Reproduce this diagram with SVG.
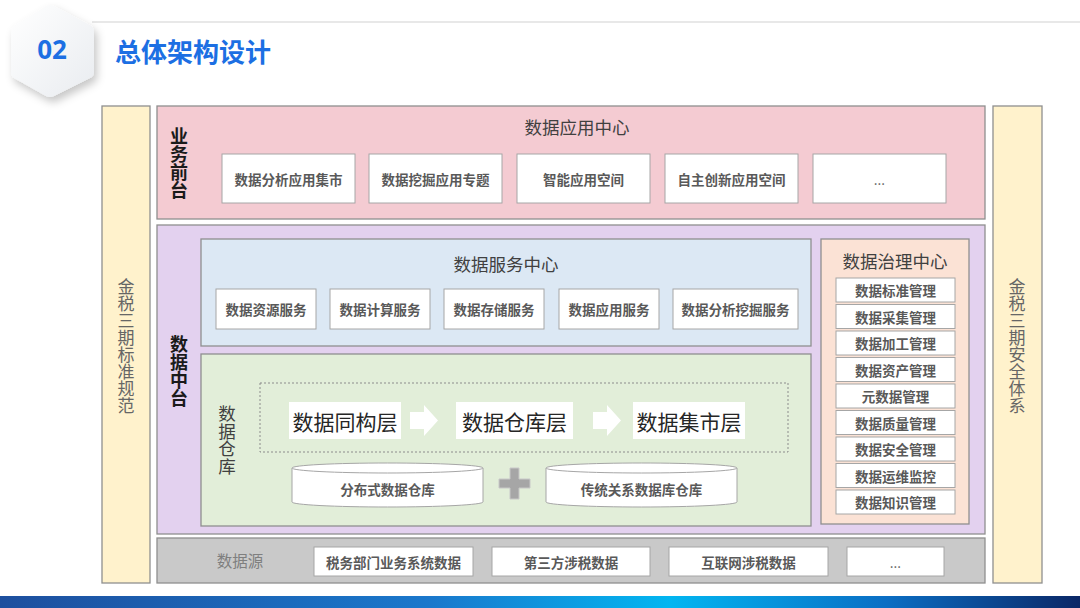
<svg xmlns="http://www.w3.org/2000/svg" width="1080" height="608" viewBox="0 0 1080 608">
<defs>
<linearGradient id="barGrad" x1="0" y1="0" x2="1" y2="0">
<stop offset="0" stop-color="#1d4f9e"/>
<stop offset="0.4" stop-color="#1a78cc"/>
<stop offset="0.62" stop-color="#02b6f1"/>
<stop offset="0.82" stop-color="#0a6ec4"/>
<stop offset="1" stop-color="#0a2766"/>
</linearGradient>
<linearGradient id="hexGrad" x1="0" y1="0" x2="1" y2="1">
<stop offset="0" stop-color="#ffffff"/>
<stop offset="1" stop-color="#e9ecf0"/>
</linearGradient>
<filter id="sh" x="-30%" y="-30%" width="160%" height="160%">
<feDropShadow dx="3" dy="5" stdDeviation="4" flood-color="#000" flood-opacity="0.22"/>
</filter>
</defs>
<style>
text{font-family:"Noto Sans CJK SC","Noto Sans",sans-serif;}
.frame{stroke:#8f8f8f;stroke-width:1.3;}
.box{fill:#fff;stroke:#a6a6a6;stroke-width:1;}
.bt{font-size:13.5px;font-weight:bold;fill:#595959;text-anchor:middle;dominant-baseline:central;}
.dots{font-size:13.5px;fill:#595959;text-anchor:middle;dominant-baseline:central;}
.title{font-size:17.5px;fill:#404040;text-anchor:middle;dominant-baseline:central;}
.vert{writing-mode:vertical-rl;text-anchor:middle;}
.side{font-size:17px;fill:#666;}
.vb{font-size:18px;font-weight:bold;fill:#1a1a1a;}
.layer{font-size:21px;fill:#262626;text-anchor:middle;dominant-baseline:central;}
</style>
<rect width="1080" height="608" fill="#ffffff"/>
<line x1="92" y1="22" x2="1080" y2="22" stroke="#e0e0e0" stroke-width="1.5"/>
<g id="header">
<path d="M54 6 L90 25 Q94 27 94 32 L94 72 Q94 76 90 78 L54 96 Q50 98 46 96 L14 78 Q11 76 11 72 L11 32 Q11 28 14 26 L46 6 Q50 4 54 6 Z" fill="url(#hexGrad)" filter="url(#sh)"/>
<text x="52" y="49" font-size="26" font-weight="bold" fill="#1c6fe3" text-anchor="middle" dominant-baseline="central" style="font-family:'Noto Sans','Liberation Sans',sans-serif">02</text>
<text x="115" y="50" font-size="26" font-weight="bold" fill="#1c6fe3" dominant-baseline="central">总体架构设计</text>
</g>
<g id="left-bar">
<rect x="102" y="106" width="48" height="477" fill="#fff2cc" class="frame"/>
<text class="vert side" x="126" y="346">金税三期标准规范</text>
</g>
<g id="right-bar">
<rect x="993" y="106" width="49" height="477" fill="#fff2cc" class="frame"/>
<text class="vert side" x="1017" y="346">金税三期安全体系</text>
</g>
<g id="business-front">
<rect x="157" y="106" width="828" height="113" fill="#f4cbd2" class="frame"/>
<text class="vert vb" x="179" y="163">业务前台</text>
<text class="title" x="577" y="126">数据应用中心</text>
<rect class="box" x="222" y="154" width="133" height="49"/><text class="bt" x="288.5" y="179">数据分析应用集市</text>
<rect class="box" x="369" y="154" width="133" height="49"/><text class="bt" x="435.5" y="179">数据挖掘应用专题</text>
<rect class="box" x="517" y="154" width="133" height="49"/><text class="bt" x="583.5" y="179">智能应用空间</text>
<rect class="box" x="665" y="154" width="133" height="49"/><text class="bt" x="731.5" y="179">自主创新应用空间</text>
<rect class="box" x="813" y="154" width="133" height="49"/><text class="dots" x="879.5" y="179">...</text>
</g>
<g id="data-middle">
<rect x="157" y="225" width="828" height="309" fill="#e3d1ef" class="frame"/>
<text class="vert vb" x="179" y="371">数据中台</text>
</g>
<g id="data-service">
<rect x="201" y="239" width="610" height="107" fill="#dce8f4" class="frame"/>
<text class="title" x="506" y="263">数据服务中心</text>
<rect class="box" x="216" y="289" width="100" height="40"/><text class="bt" x="266" y="309">数据资源服务</text>
<rect class="box" x="330" y="289" width="100" height="40"/><text class="bt" x="380" y="309">数据计算服务</text>
<rect class="box" x="444" y="289" width="100" height="40"/><text class="bt" x="494" y="309">数据存储服务</text>
<rect class="box" x="559" y="289" width="100" height="40"/><text class="bt" x="609" y="309">数据应用服务</text>
<rect class="box" x="673" y="289" width="125" height="40"/><text class="bt" x="735.5" y="309">数据分析挖掘服务</text>
</g>
<g id="data-warehouse">
<rect x="201" y="354" width="610" height="172" fill="#e2eed9" class="frame"/>
<text class="vert" x="227" y="440" font-size="17.5" fill="#404040">数据仓库</text>
<rect x="260" y="383" width="528" height="69" fill="none" stroke="#8c8c8c" stroke-width="1" stroke-dasharray="2 2"/>
<rect x="289" y="402" width="112" height="37" fill="#fff"/><text class="layer" x="345" y="420.5">数据同构层</text>
<rect x="456" y="402" width="117" height="37" fill="#fff"/><text class="layer" x="514.5" y="420.5">数据仓库层</text>
<rect x="633" y="402" width="112" height="37" fill="#fff"/><text class="layer" x="689" y="420.5">数据集市层</text>
<path d="M292 468 L292 502 A95.5 5 0 0 0 483 502 L483 468" fill="#fff" stroke="#a6a6a6" stroke-width="1"/>
<ellipse cx="387.5" cy="468" rx="95.5" ry="5" fill="#fff" stroke="#a6a6a6" stroke-width="1"/>
<text class="bt" x="387.5" y="489">分布式数据仓库</text>
<path d="M546 468 L546 502 A95.5 5 0 0 0 737 502 L737 468" fill="#fff" stroke="#a6a6a6" stroke-width="1"/>
<ellipse cx="641.5" cy="468" rx="95.5" ry="5" fill="#fff" stroke="#a6a6a6" stroke-width="1"/>
<text class="bt" x="641.5" y="489">传统关系数据库仓库</text>
<path d="M510 468 H519 V479 H530 V488 H519 V499 H510 V488 H499 V479 H510 Z" fill="#a6a6a6" stroke="#c8c8c8" stroke-width="1"/>
</g>
<g id="governance">
<rect x="821" y="239" width="148" height="285" fill="#fbe2d5" class="frame"/>
<text class="title" x="895" y="260">数据治理中心</text>
<rect class="box" x="836" y="278" width="119" height="24"/><text class="bt" x="895.5" y="290">数据标准管理</text>
<rect class="box" x="836" y="304.5" width="119" height="24"/><text class="bt" x="895.5" y="316.5">数据采集管理</text>
<rect class="box" x="836" y="331" width="119" height="24"/><text class="bt" x="895.5" y="343">数据加工管理</text>
<rect class="box" x="836" y="357.5" width="119" height="24"/><text class="bt" x="895.5" y="369.5">数据资产管理</text>
<rect class="box" x="836" y="384" width="119" height="24"/><text class="bt" x="895.5" y="396">元数据管理</text>
<rect class="box" x="836" y="410.5" width="119" height="24"/><text class="bt" x="895.5" y="422.5">数据质量管理</text>
<rect class="box" x="836" y="437" width="119" height="24"/><text class="bt" x="895.5" y="449">数据安全管理</text>
<rect class="box" x="836" y="463.5" width="119" height="24"/><text class="bt" x="895.5" y="475.5">数据运维监控</text>
<rect class="box" x="836" y="490" width="119" height="24"/><text class="bt" x="895.5" y="502">数据知识管理</text>
</g>
<g id="data-source">
<rect x="157" y="538" width="828" height="45" fill="#c9c9c9" class="frame"/>
<text x="240" y="560" font-size="15.5" fill="#7f7f7f" text-anchor="middle" dominant-baseline="central">数据源</text>
<rect class="box" x="314" y="547" width="159" height="29"/><text class="bt" x="393.5" y="561.5">税务部门业务系统数据</text>
<rect class="box" x="492" y="547" width="158" height="29"/><text class="bt" x="571" y="561.5">第三方涉税数据</text>
<rect class="box" x="669" y="547" width="159" height="29"/><text class="bt" x="748.5" y="561.5">互联网涉税数据</text>
<rect class="box" x="847" y="547" width="97" height="29"/><text class="dots" x="895.5" y="561.5">...</text>
</g>
<g id="connectors">
<path d="M410 412 H424 V405 L438 420.5 L424 436 V429 H410 Z" fill="#ffffff"/>
<path d="M593 412 H607 V405 L621 420.5 L607 436 V429 H593 Z" fill="#ffffff"/>
</g>
<rect x="0" y="596" width="1080" height="12" fill="url(#barGrad)"/>
</svg>
